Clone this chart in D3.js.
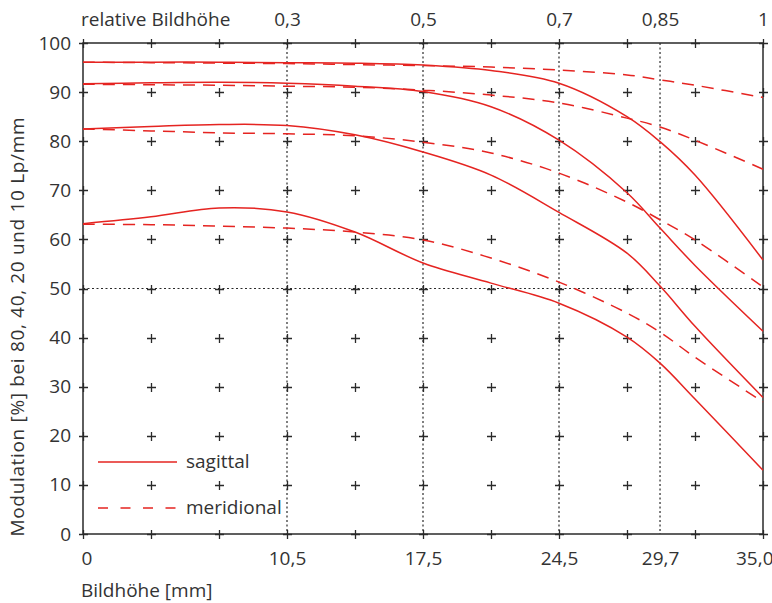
<!DOCTYPE html>
<html>
<head>
<meta charset="utf-8">
<script src="https://cdn.jsdelivr.net/npm/d3@7"></script>
<style>
  html, body { margin: 0; padding: 0; background: #fff; }
  svg { display: block; }
  text { font-family: "Open Sans", "Noto Sans", sans-serif; fill: #333; }
</style>
</head>
<body>
<svg id="chart" width="772" height="603"></svg>
<script>
// ---- data ----
const imageHeights = [0, 3.5, 7, 10.5, 14, 17.5, 21, 24.5, 28, 29.7, 31.5, 35];
const sag10 = [96.1, 96.1, 96.1, 96.0, 95.9, 95.5, 94.4, 91.8, 85.0, 79.9, 73.1, 55.8];
const mer10 = [96.1, 96.0, 95.9, 95.8, 95.6, 95.4, 95.1, 94.5, 93.5, 92.5, 91.4, 88.9];
const sag20 = [91.7, 91.9, 92.0, 91.8, 91.2, 90.1, 87.0, 80.2, 69.5, 62.3, 54.7, 41.3];
const mer20 = [91.6, 91.5, 91.4, 91.2, 91.0, 90.4, 89.4, 87.8, 84.7, 82.9, 80.2, 74.3];
const sag40 = [82.5, 83.0, 83.4, 83.2, 81.3, 77.8, 73.1, 65.5, 57.2, 50.5, 42.3, 27.8];
const mer40 = [82.5, 82.1, 81.7, 81.5, 81.1, 79.8, 77.6, 73.5, 67.6, 64.0, 59.9, 50.3];
const sag80 = [63.2, 64.6, 66.4, 65.6, 61.5, 55.2, 51.1, 47.0, 40.1, 34.8, 27.5, 13.0];
const mer80 = [63.1, 63.0, 62.7, 62.3, 61.5, 59.9, 56.2, 51.3, 45.0, 41.1, 36.0, 26.9];

const bottomTicks = [0, 10.5, 17.5, 24.5, 29.7, 35];
const bottomTickLabels = ["0", "10,5", "17,5", "24,5", "29,7", "35,0"];
const topTicks = [10.5, 17.5, 24.5, 29.7, 35];
const topTickLabels = ["0,3", "0,5", "0,7", "0,85", "1"];
const yTicks = [0, 10, 20, 30, 40, 50, 60, 70, 80, 90, 100];
const gridX = [0, 3.5, 7, 10.5, 14, 17.5, 21, 24.5, 28, 31.5, 35];
const dottedX = [10.5, 17.5, 24.5, 29.7];
const dottedY = [50];

const series = [
  { values: sag10, dashed: false }, { values: mer10, dashed: true },
  { values: sag20, dashed: false }, { values: mer20, dashed: true },
  { values: sag40, dashed: false }, { values: mer40, dashed: true },
  { values: sag80, dashed: false }, { values: mer80, dashed: true }
];

// ---- layout ----
const svg = d3.select("#chart");
const x = d3.scaleLinear().domain([0, 35]).range([83, 763]);
const y = d3.scaleLinear().domain([0, 100]).range([534, 43]);
const ink = "#2a2a2a";
const red = "#e52421";
const fs = "19px";

// dotted reference lines
svg.append("g").selectAll("line").data(dottedX).join("line")
  .attr("x1", d => x(d)).attr("x2", d => x(d))
  .attr("y1", y(100)).attr("y2", y(0))
  .attr("stroke", ink).attr("stroke-width", 1.2).attr("stroke-dasharray", "2,2.5");
svg.append("g").selectAll("line").data(dottedY).join("line")
  .attr("x1", x(0)).attr("x2", x(35))
  .attr("y1", d => y(d)).attr("y2", d => y(d))
  .attr("stroke", ink).attr("stroke-width", 1.2).attr("stroke-dasharray", "2,2.5");

// crosses
const crossPts = [];
gridX.forEach(gx => yTicks.forEach(gy => crossPts.push([gx, gy])));
svg.append("g").attr("stroke", ink).attr("stroke-width", 1.3)
  .selectAll("path").data(crossPts).join("path")
  .attr("d", d => {
    const cx = Math.round(x(d[0])) + 0.5, cy = Math.round(y(d[1])) + 0.5;
    return `M${cx - 4.5},${cy}H${cx + 4.5}M${cx},${cy - 4.5}V${cy + 4.5}`;
  });

// frame
svg.append("rect")
  .attr("x", x(0)).attr("y", y(100))
  .attr("width", x(35) - x(0)).attr("height", y(0) - y(100))
  .attr("fill", "none").attr("stroke", ink).attr("stroke-width", 1.5);

// curves
const line = d3.line()
  .x((d, i) => x(imageHeights[i]))
  .y(d => y(d))
  .curve(d3.curveCatmullRom.alpha(0.5));
svg.append("g").selectAll("path").data(series).join("path")
  .attr("d", d => line(d.values))
  .attr("fill", "none").attr("stroke", red).attr("stroke-width", 1.5)
  .attr("stroke-dasharray", d => d.dashed ? "12,8" : null);

// axes labels via d3 axes
const axB = svg.append("g").attr("transform", `translate(0,${y(0)})`)
  .call(d3.axisBottom(x).tickValues(bottomTicks).tickSize(0).tickPadding(18)
    .tickFormat((d, i) => bottomTickLabels[i]));
axB.select(".domain").remove();
axB.selectAll("text").attr("font-size", fs).attr("fill", "#333")
  .attr("font-family", "'Open Sans', sans-serif")
  .attr("text-anchor", (d, i) => i === 0 ? "start" : (i === bottomTicks.length - 1 ? "end" : "middle"))
  .attr("dx", (d, i) => i === 0 ? -2 : (i === bottomTicks.length - 1 ? 10 : 0));

const axT = svg.append("g").attr("transform", `translate(0,${y(100)})`)
  .call(d3.axisTop(x).tickValues(topTicks).tickSize(0).tickPadding(17)
    .tickFormat((d, i) => topTickLabels[i]));
axT.select(".domain").remove();
axT.selectAll("text").attr("font-size", fs).attr("fill", "#333")
  .attr("font-family", "'Open Sans', sans-serif");

const axL = svg.append("g").attr("transform", `translate(${x(0)},0)`)
  .call(d3.axisLeft(y).tickValues(yTicks).tickSize(0).tickPadding(12));
axL.select(".domain").remove();
axL.selectAll("text").attr("font-size", fs).attr("fill", "#333")
  .attr("font-family", "'Open Sans', sans-serif");

// titles
svg.append("text").attr("x", 81).attr("y", 26).attr("font-size", fs).text("relative Bildhöhe");
svg.append("text").attr("x", 81).attr("y", 597).attr("font-size", fs).text("Bildhöhe [mm]");
svg.append("text")
  .attr("transform", "translate(24,327) rotate(-90)")
  .attr("text-anchor", "middle").attr("font-size", fs)
  .attr("textLength", 419).attr("lengthAdjust", "spacing")
  .text("Modulation [%] bei 80, 40, 20 und 10 Lp/mm");

// legend
const legend = [{ label: "sagittal", dashed: false, yy: 462 }, { label: "meridional", dashed: true, yy: 508 }];
const lg = svg.append("g");
lg.selectAll("line").data(legend).join("line")
  .attr("x1", 98).attr("x2", 177).attr("y1", d => d.yy).attr("y2", d => d.yy)
  .attr("stroke", red).attr("stroke-width", 1.5)
  .attr("stroke-dasharray", d => d.dashed ? "10,12.5" : null);
lg.selectAll("text").data(legend).join("text")
  .attr("x", 186).attr("y", d => d.yy + 6).attr("font-size", fs).text(d => d.label);
</script>
</body>
</html>
